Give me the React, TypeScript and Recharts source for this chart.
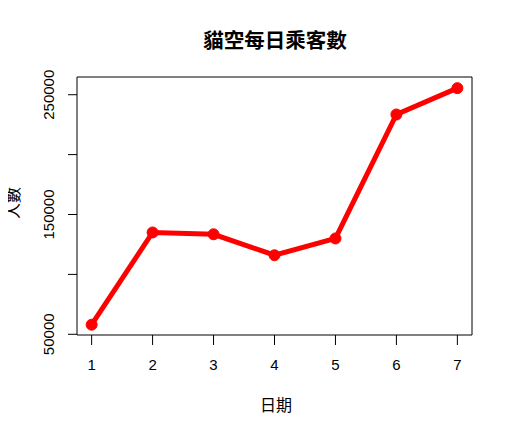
import React from 'react';
import { LineChart, Line, XAxis, YAxis, ReferenceArea } from 'recharts';

const days = [1, 2, 3, 4, 5, 6, 7];
const riders = [58000, 135000, 133500, 116000, 130000, 233500, 255500];
const yTicks = [50000, 100000, 150000, 200000, 250000];
const yLabelled = [50000, 150000, 250000];
const xDomain = [0.76, 7.24];
const yDomain = [49400, 264800];

const data = days.map((d, i) => ({ day: d, riders: riders[i] }));

const latinFont = '"Liberation Sans", Arial, sans-serif';
const cjkFont = '"Noto Sans CJK TC", "Noto Sans CJK SC", sans-serif';

const XTick = (props: any) => {
  const { x, payload } = props;
  return (
    <text x={x} y={362} textAnchor="middle" fontFamily={latinFont} fontSize={15} fill="#000">
      {payload.value}
    </text>
  );
};

const YTick = (props: any) => {
  const { y, payload } = props;
  if (!yLabelled.includes(payload.value)) return <g />;
  return (
    <text
      x={46}
      y={y}
      textAnchor="middle"
      fontFamily={latinFont}
      fontSize={15}
      fill="#000"
      transform={`rotate(-90, 46, ${y})`}
    >
      {payload.value}
    </text>
  );
};

export default function App() {
  return (
    <div style={{ position: 'relative', width: 504, height: 420 }}>
      <LineChart
        width={504}
        height={420}
        data={data}
        margin={{ top: 69, right: 40, bottom: 63, left: 0 }}
      >
        <XAxis
          dataKey="day"
          type="number"
          domain={xDomain}
          ticks={days}
          axisLine={false}
          tickSize={10}
          tickLine={{ stroke: '#000' }}
          tick={<XTick />}
          height={30}
          allowDataOverflow
        />
        <YAxis
          type="number"
          domain={yDomain}
          ticks={yTicks}
          axisLine={false}
          tickSize={9}
          tickLine={{ stroke: '#000' }}
          tick={<YTick />}
          width={69}
          allowDataOverflow
        />
        <ReferenceArea
          x1={xDomain[0]}
          x2={xDomain[1]}
          y1={yDomain[0]}
          y2={yDomain[1]}
          fill="none"
          stroke="#000"
          strokeWidth={1}
          fillOpacity={0}
        />
        <Line
          dataKey="riders"
          stroke="#ff0000"
          strokeWidth={5}
          dot={{ r: 5.5, fill: '#ff0000', stroke: '#ff0000', strokeWidth: 1 }}
          isAnimationActive={false}
        />
      </LineChart>
      <svg
        width={512}
        height={428}
        viewBox="-8 -8 512 428"
        style={{ position: 'absolute', left: -8, top: -8, pointerEvents: 'none' }}
      >
        <text x={267} y={40} textAnchor="middle" fontFamily={cjkFont} fontWeight="bold" fontSize={20.5} fill="#000">
          貓空每日乘客數
        </text>
        <text x={268} y={403} textAnchor="middle" fontFamily={cjkFont} fontSize={16} fill="#000">
          日期
        </text>
        <text
          x={11}
          y={195}
          textAnchor="middle"
          fontFamily={cjkFont}
          fontSize={16}
          fill="#000"
          transform="rotate(-90, 11, 195)"
        >
          人數
        </text>
      </svg>
    </div>
  );
}
